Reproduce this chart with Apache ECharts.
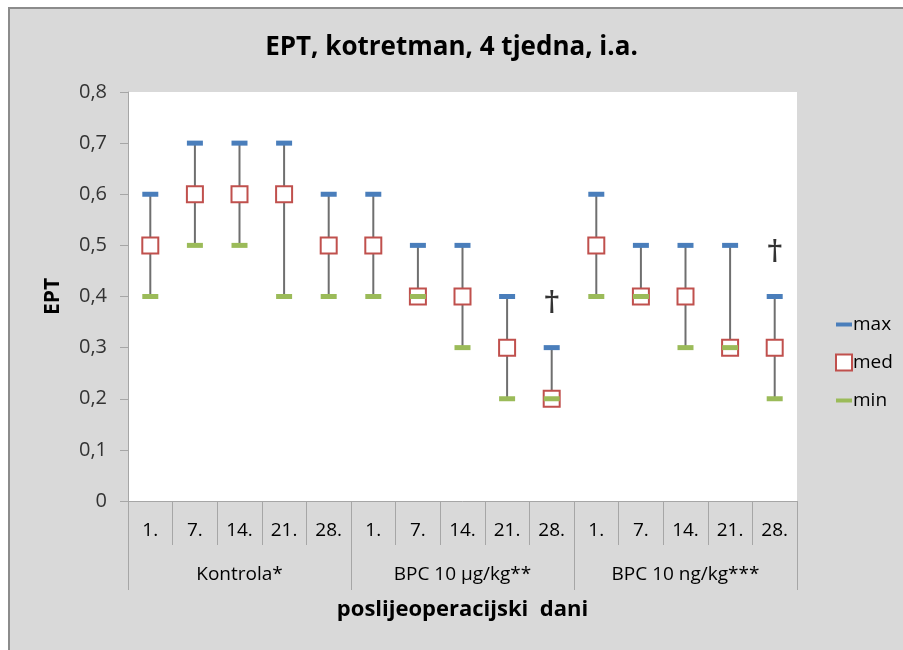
<!DOCTYPE html>
<html>
<head>
<meta charset="utf-8">
<script src="https://cdn.jsdelivr.net/npm/echarts@6/dist/echarts.min.js"></script>
<style>
  body { margin: 0; background: #fff; }
  #frame { position: absolute; left: 8px; top: 7px; width: 895px; height: 643px; background: #d9d9d9; border-left: 2px solid #8c8c8c; border-top: 2px solid #8c8c8c; }
  #main { position: absolute; left: 0; top: 0; width: 903px; height: 650px; }
</style>
</head>
<body>
<div id="frame"></div>
<div id="main"></div>
<script>
  var days = ['1.', '7.', '14.', '21.', '28.', '1.', '7.', '14.', '21.', '28.', '1.', '7.', '14.', '21.', '28.'];
  var groups = ['Kontrola*', 'BPC 10 µg/kg**', 'BPC 10 ng/kg***'];
  var maxVals = [0.6, 0.7, 0.7, 0.7, 0.6, 0.6, 0.5, 0.5, 0.4, 0.3, 0.6, 0.5, 0.5, 0.5, 0.4];
  var medVals = [0.5, 0.6, 0.6, 0.6, 0.5, 0.5, 0.4, 0.4, 0.3, 0.2, 0.5, 0.4, 0.4, 0.3, 0.3];
  var minVals = [0.4, 0.5, 0.5, 0.4, 0.4, 0.4, 0.4, 0.3, 0.2, 0.2, 0.4, 0.4, 0.3, 0.3, 0.2];
  // oznake † iznad zadnjeg dana
  var daggers = [null, null, null, null, null, null, null, null, null, 0.385, null, null, null, null, 0.485];

  var font = 'Open Sans';
  var chart = echarts.init(document.getElementById('main'));

  var rangeData = [];
  for (var i = 0; i < days.length; i++) {
    rangeData.push([i, minVals[i], maxVals[i]]);
  }

  var option = {
    animation: false,
    textStyle: { fontFamily: font },
    title: {
      text: 'EPT, kotretman, 4 tjedna, i.a.',
      left: 'center',
      top: 30,
      textStyle: { fontSize: 26, fontWeight: 'bold', color: '#000', fontFamily: font }
    },
    legend: {
      orient: 'vertical',
      left: 830,
      top: 310,
      itemGap: 19,
      itemWidth: 16,
      itemHeight: 16,
      textStyle: { fontSize: 19, color: '#000', padding: [0, 0, 0, -4] },
      data: [
        { name: 'max', icon: 'path://M0,0M16,16M0,6H16V10H0Z' },
        { name: 'med', icon: 'path://M1,1H15V15H1Z' },
        { name: 'min', icon: 'path://M0,0M16,16M0,6H16V10H0Z' }
      ]
    },
    grid: {
      left: 128, right: 106, top: 92, bottom: 149,
      show: true, backgroundColor: '#fff', borderWidth: 0
    },
    xAxis: [
      {
        type: 'category',
        data: days,
        position: 'bottom',
        axisLine: { lineStyle: { color: '#a6a6a6', width: 1 } },
        axisTick: { show: true, interval: 0, length: 44, lineStyle: { color: '#a6a6a6' } },
        axisLabel: { interval: 0, margin: 20, fontSize: 19, color: '#000' }
      },
      {
        type: 'category',
        data: groups,
        position: 'bottom',
        axisLine: { show: false },
        axisTick: { show: true, interval: 0, length: 89, lineStyle: { color: '#a6a6a6' } },
        axisLabel: { interval: 0, margin: 64, fontSize: 19, color: '#000' },
        name: 'poslijeoperacijski  dani',
        nameLocation: 'middle',
        nameGap: 98,
        nameTextStyle: { fontSize: 22, fontWeight: 'bold', color: '#000' }
      }
    ],
    yAxis: {
      type: 'value',
      min: 0,
      max: 0.8,
      interval: 0.1,
      name: 'EPT',
      nameLocation: 'middle',
      nameGap: 64,
      nameTextStyle: { fontSize: 21, fontWeight: 'bold', color: '#000' },
      axisLine: { show: true, lineStyle: { color: '#a6a6a6' } },
      axisTick: { show: true, length: 8, lineStyle: { color: '#a6a6a6' } },
      splitLine: { show: false },
      axisLabel: {
        fontSize: 20, color: '#333', margin: 21,
        formatter: function (v) { return v === 0 ? '0' : v.toFixed(1).replace('.', ','); }
      }
    },
    series: [
      {
        name: 'range',
        type: 'custom',
        xAxisIndex: 0,
        data: rangeData,
        z: 1,
        renderItem: function (params, api) {
          var lo = api.coord([api.value(0), api.value(1)]);
          var hi = api.coord([api.value(0), api.value(2)]);
          return {
            type: 'line',
            shape: { x1: lo[0], y1: lo[1], x2: hi[0], y2: hi[1] },
            style: { stroke: '#6f6f6f', lineWidth: 2 }
          };
        }
      },
      {
        name: 'med',
        type: 'scatter',
        xAxisIndex: 0,
        data: medVals,
        symbol: 'rect',
        symbolSize: 16,
        z: 2,
        itemStyle: { color: '#fff', borderColor: '#c0504d', borderWidth: 2, opacity: 1 }
      },
      {
        name: 'max',
        type: 'scatter',
        xAxisIndex: 0,
        data: maxVals,
        symbol: 'rect',
        symbolSize: [16, 5],
        z: 3,
        itemStyle: { color: '#4a7ebb', opacity: 1 }
      },
      {
        name: 'min',
        type: 'scatter',
        xAxisIndex: 0,
        data: minVals,
        symbol: 'rect',
        symbolSize: [16, 5],
        z: 3,
        itemStyle: { color: '#9bbb59', opacity: 1 }
      },
      {
        name: 'dagger',
        type: 'scatter',
        xAxisIndex: 0,
        data: daggers,
        symbolSize: 1,
        itemStyle: { color: 'rgba(0,0,0,0)' },
        z: 4,
        label: {
          show: true,
          position: 'inside',
          formatter: '†',
          fontSize: 28,
          fontWeight: 'bold',
          color: '#000',
          fontFamily: 'DejaVu Serif'
        }
      }
    ]
  };

  chart.setOption(option);
</script>
</body>
</html>
